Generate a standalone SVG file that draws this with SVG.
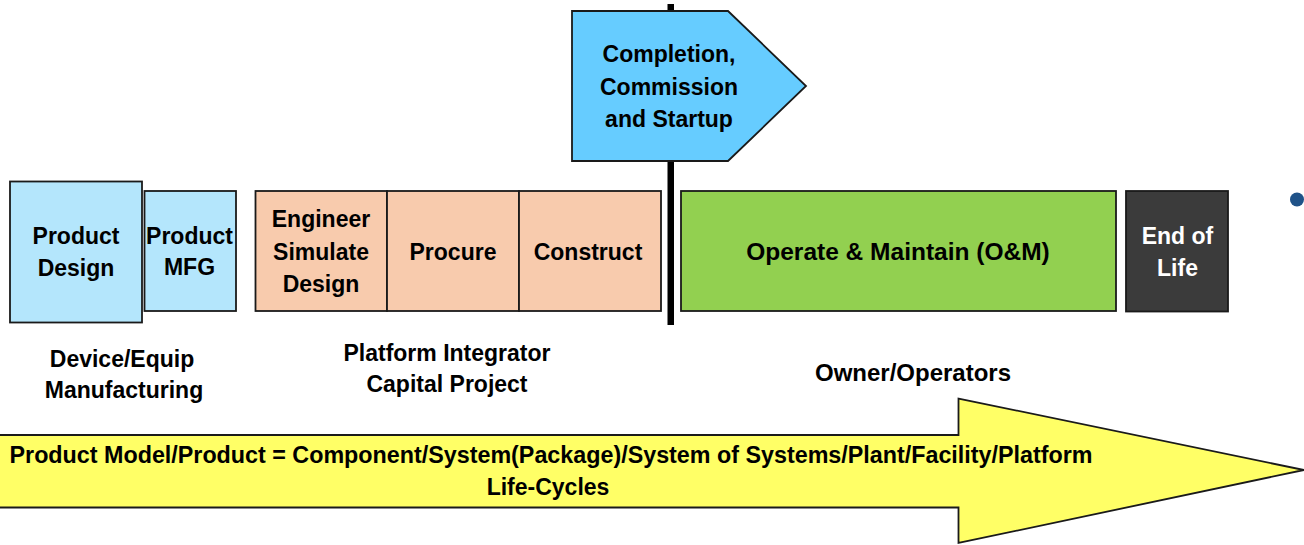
<svg xmlns="http://www.w3.org/2000/svg" width="1304" height="545" viewBox="0 0 1304 545">
<style>
text{font-family:"Liberation Sans",Arial,sans-serif;font-weight:bold;font-size:23px;fill:#000;text-anchor:middle}
.box{stroke:#1a1a1a;stroke-width:1.8}
.lb{fill:#b4e6fc}
.or{fill:#f8cbad}
.w{fill:#fff}
</style>
<rect width="1304" height="545" fill="#fff"/>
<g id="product-design"><rect class="box lb" x="10" y="181.5" width="132" height="141"/><text x="76" y="244">Product</text><text x="76" y="276">Design</text></g>
<g id="product-mfg"><rect class="box lb" x="144.5" y="191" width="91.5" height="120"/><text x="189.5" y="244">Product</text><text x="189.5" y="275">MFG</text></g>
<g id="engineer"><rect class="box or" x="255.5" y="191" width="131.5" height="120"/><text x="321" y="227">Engineer</text><text x="321" y="260">Simulate</text><text x="321" y="292">Design</text></g>
<g id="procure"><rect class="box or" x="387" y="191" width="132" height="120"/><text x="453" y="260">Procure</text></g>
<g id="construct"><rect class="box or" x="519" y="191" width="142" height="120"/><text x="588" y="260">Construct</text></g>
<g id="divider"><rect x="667.5" y="4" width="6.5" height="321" fill="#000"/></g>
<g id="completion"><polygon class="box" fill="#66ccff" points="572,11 728,11 806,86 728,161 572,161"/><text x="669" y="62">Completion,</text><text x="669" y="95">Commission</text><text x="669" y="127">and Startup</text></g>
<g id="operate"><rect class="box" fill="#92d050" x="681" y="191" width="435" height="120"/><text x="898" y="260" style="font-size:24.5px">Operate &amp; Maintain (O&amp;M)</text></g>
<g id="end-of-life"><rect class="box" fill="#3b3b3b" x="1126" y="191" width="102" height="120.5"/><text class="w" x="1177.5" y="244">End of</text><text class="w" x="1177.5" y="276">Life</text></g>
<circle id="bullet" cx="1297" cy="199.5" r="7" fill="#1f5288"/>
<g id="labels">
<text x="122" y="367">Device/Equip</text><text x="124" y="398">Manufacturing</text>
<text x="447" y="361">Platform Integrator</text><text x="447" y="392">Capital Project</text>
<text x="913" y="381" style="font-size:24px">Owner/Operators</text>
</g>
<g id="lifecycle-arrow"><polygon class="box" fill="#ffff66" points="-5,435 958.5,435 958.5,398.5 1304,470 958.5,543 958.5,507.5 -5,507.5"/>
<text x="551" y="463" style="font-size:23.3px">Product Model/Product = Component/System(Package)/System of Systems/Plant/Facility/Platform</text>
<text x="548" y="495">Life-Cycles</text></g>
<g id="connectors"/>
</svg>
